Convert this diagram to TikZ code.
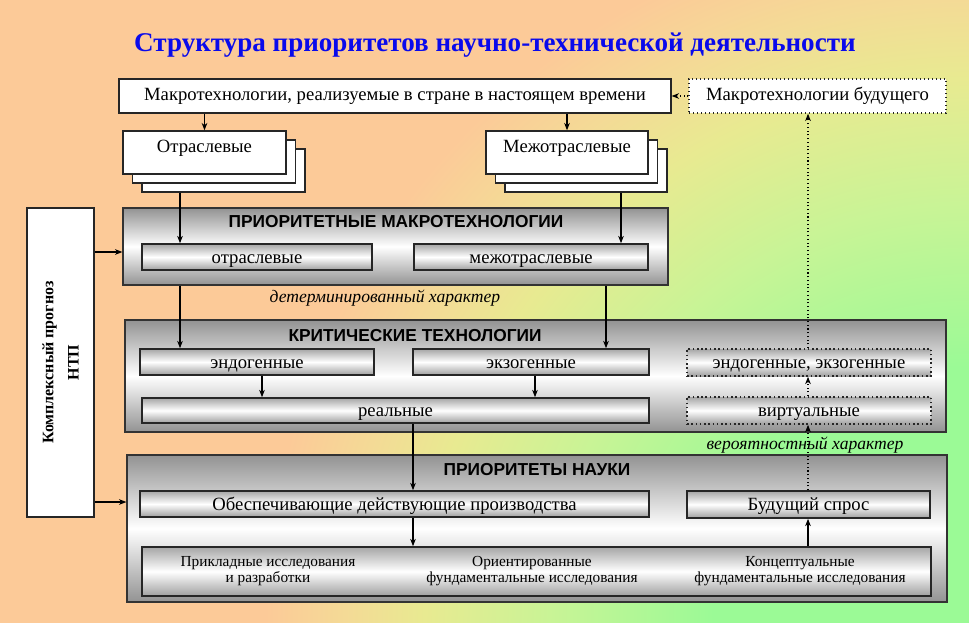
\documentclass[tikz,border=0pt]{standalone}
\usepackage{fontspec}
\setmainfont{Liberation Serif}
\setsansfont{Liberation Sans}
\usepackage{tikz}
\usetikzlibrary{arrows,arrows.meta,calc,shadings}
\definecolor{bgpeach}{RGB}{252,202,152}
\definecolor{bgbeige}{RGB}{244,218,150}
\definecolor{bgyellow}{RGB}{232,234,145}
\definecolor{bglime}{RGB}{200,244,150}
\definecolor{bggreen}{RGB}{155,250,150}
\definecolor{titleblue}{RGB}{10,10,235}
\pgfdeclareradialshading{bgglow}{\pgfpoint{0bp}{0bp}}{color(0bp)=(bggreen); color(8bp)=(bggreen); color(13bp)=(bglime); color(17bp)=(bgyellow); color(19.5bp)=(bgbeige); color(22bp)=(bgpeach); color(50bp)=(bgpeach)}
\newcommand{\px}{0.75pt}
\tikzset{wh/.style 2 args={minimum width=#1*\px, minimum height=#2*\px}}
\tikzstyle{sheet}=[draw=black!85, fill=white, line width=1pt, inner sep=0pt]
\tikzstyle{dotbox}=[sheet, dotted]
\tikzstyle{panel}=[draw=black!80, line width=0.9pt, top color=gray!85, bottom color=gray!85, middle color=white, inner sep=0pt]
\tikzstyle{bar}=[draw=black!85, line width=1.2pt, top color=gray!70, bottom color=gray!75, middle color=white, inner sep=0pt, text height=10.5pt, text depth=1.5pt]
\tikzstyle{dotbar}=[bar, dotted]
\tikzstyle{txt}=[font=\fontsize{14}{16}\selectfont]
\tikzstyle{head}=[font=\sffamily\bfseries\fontsize{13}{15}\selectfont]
\tikzstyle{note}=[font=\itshape\fontsize{13.2}{15}\selectfont]
\tikzstyle{small}=[font=\fontsize{11.5}{11.5}\selectfont, align=center]
\tikzstyle{link}=[-{Stealth[length=5.5pt, width=4.2pt, inset=1.6pt]}, line width=0.8pt]
\tikzstyle{dlink}=[link, dotted]
% three sheets, the front one carries the text near its top
\newcommand{\stackNbox}[4]{
	\node[sheet, wh={#3}{43}] (#1-3) at ($#2+(19,18)$) {};
	\node[sheet, wh={#3}{43}] (#1-2) at ($#2+(9.5,9)$) {};
	\node[sheet, wh={#3}{43}, txt, text height=16.5pt, text depth=15.75pt] (#1) at #2 {#4};
}
\begin{document}
\begin{tikzpicture}[x=0.75pt, y=-0.75pt]
	\useasboundingbox (0,0) rectangle (969,623);
	\fill[bgpeach] (0,0) rectangle (969,623);
	\begin{scope}
		\clip (0,0) rectangle (969,623);
		\shade[shading=bgglow] (969,623) circle (800);
	\end{scope}
	\node[font=\bfseries\fontsize{20.3}{24}\selectfont, text=titleblue] (title) at (495,45) {Структура приоритетов научно-технической деятельности};
	% top row
	\node[sheet, wh={552}{34}, txt] (top) at (395,96) {Макротехнологии, реализуемые в стране в настоящем времени};
	\node[dotbox, wh={257}{34}, txt] (fut) at (817.5,96) {Макротехнологии будущего};
	\stackNbox{stA}{(204.5,152.5)}{163}{Отраслевые}
	\stackNbox{stB}{(567,152.5)}{162}{Межотраслевые}
	% forecast
	\node[sheet, wh={67}{309}] (prog) at (60.5,362.5) {};
	\node[rotate=90, align=center, font=\bfseries\fontsize{12}{19}\selectfont] (progT) at (prog.center) {Комплексный прогноз\\НТП};
	% priority macrotechnologies
	\node[panel, wh={545}{77}] (pm) at (395.5,246.5) {};
	\node[head] (pmT) at (396,222) {ПРИОРИТЕТНЫЕ МАКРОТЕХНОЛОГИИ};
	\node[bar, wh={230}{26}, txt] (pmOtr) at (257,257) {отраслевые};
	\node[bar, wh={234}{26}, txt] (pmMezh) at (531,257) {межотраслевые};
	\node[note] (det) at (385,298) {детерминированный характер};
	% critical technologies
	\node[panel, wh={821}{112}] (kt) at (535.5,376) {};
	\node[head] (ktT) at (415,336) {КРИТИЧЕСКИЕ ТЕХНОЛОГИИ};
	\node[bar, wh={234}{26}, txt] (ktEndo) at (257,362) {эндогенные};
	\node[bar, wh={236}{26}, txt] (ktExo) at (531,362) {экзогенные};
	\node[dotbar, wh={244}{27}, txt] (ktEE) at (809,362.5) {эндогенные, экзогенные};
	\node[bar, wh={507}{25}, txt] (ktReal) at (395.5,410.5) {реальные};
	\node[dotbar, wh={244}{27}, txt] (ktVirt) at (809,410.5) {виртуальные};
	\node[note] (ver) at (805,445) {вероятностный характер};
	% science priorities
	\node[panel, wh={820}{147}] (pn) at (537,528.5) {};
	\node[head] (pnT) at (537,470) {ПРИОРИТЕТЫ НАУКИ};
	\node[bar, wh={509}{26}, txt] (pnObes) at (394.5,504) {Обеспечивающие действующие производства};
	\node[bar, wh={243}{27}, txt] (pnFut) at (808.5,504.5) {Будущий спрос};
	\node[bar, wh={789}{49}, text height=, text depth=] (pnLow) at (536.5,571.5) {};
	\node[small] (lowA) at (268,571) {Прикладные исследования\\и разработки};
	\node[small] (lowB) at (532,571) {Ориентированные\\фундаментальные исследования};
	\node[small] (lowC) at (800,571) {Концептуальные\\фундаментальные исследования};
	% columns and rows of the connectors
	\coordinate (cA) at (180,0);
	\coordinate (cB) at (621,0);
	\coordinate (cC) at (606,0);
	\coordinate (cD) at (262,0);
	\coordinate (cE) at (535,0);
	\coordinate (cF) at (413,0);
	\coordinate (cG) at (808,0);
	\coordinate (r1) at (0,252);
	\coordinate (r2) at (0,502);
	\draw[link] (top.south -| stA.north) -- (stA.north);
	\draw[link] (top.south -| stB.north) -- (stB.north);
	\draw[dlink] (fut.west) -- (top.east);
	\draw[link] (stA-3.south -| cA) -- (pmOtr.north -| cA);
	\draw[link] (stB-3.south -| cB) -- (pmMezh.north -| cB);
	\draw[link] (prog.east |- r1) -- (pm.west |- r1);
	\draw[link] (prog.east |- r2) -- (pn.west |- r2);
	\draw[link] (pm.south -| cA) -- (ktEndo.north -| cA);
	\draw[link] (pm.south -| cC) -- (ktExo.north -| cC);
	\draw[link] (ktEndo.south -| cD) -- (ktReal.north -| cD);
	\draw[link] (ktExo.south -| cE) -- (ktReal.north -| cE);
	\draw[link] (ktReal.south -| cF) -- (pnObes.north -| cF);
	\draw[link] (pnObes.south -| cF) -- (pnLow.north -| cF);
	\draw[link] (pnLow.north -| cG) -- (pnFut.south -| cG);
	\draw[dlink] (pnFut.north -| cG) -- (ktVirt.south -| cG);
	\draw[dlink] (ktVirt.north -| cG) -- (ktEE.south -| cG);
	\draw[dlink] (ktEE.north -| cG) -- (fut.south -| cG);
\end{tikzpicture}
\end{document}
